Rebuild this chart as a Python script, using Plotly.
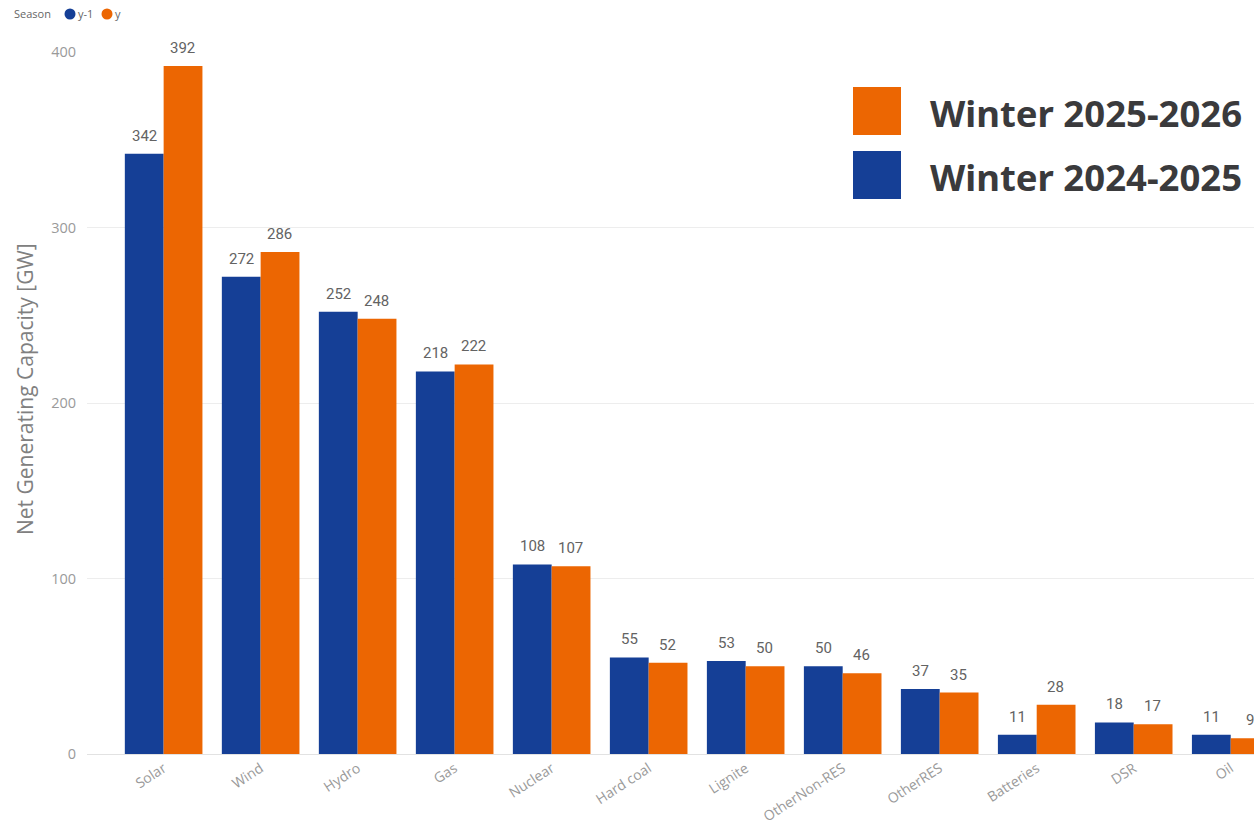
import plotly.graph_objects as go

# Net generating capacity by technology, two winter seasons
categories = ["Solar", "Wind", "Hydro", "Gas", "Nuclear", "Hard coal", "Lignite",
              "OtherNon-RES", "OtherRES", "Batteries", "DSR", "Oil"]
prev_season = [342, 272, 252, 218, 108, 55, 53, 50, 37, 11, 18, 11]
curr_season = [392, 286, 248, 222, 107, 52, 50, 46, 35, 28, 17, 9]
y_ticks = [0, 100, 200, 300, 400]

BLUE = "#153F96"
ORANGE = "#EC6602"
W, H = 1254, 828
M_L, M_R, M_T, M_B = 87, 0, 52, 74
PW, PH = W - M_L - M_R, H - M_T - M_B


def px_x(x):
    return (x - M_L) / PW


def px_y(y):
    return (H - y - M_B) / PH


fig = go.Figure()
fig.add_trace(go.Bar(x=categories, y=prev_season, name="y-1", marker_color=BLUE,
                     marker_line_width=0, showlegend=False))
fig.add_trace(go.Bar(x=categories, y=curr_season, name="y", marker_color=ORANGE,
                     marker_line_width=0, showlegend=False))

# value labels above each bar, offset to the left/right half of the group
label_font = dict(family="Roboto", size=15, color="#636363", weight=400)
for values, dx in [(prev_season, -19), (curr_season, 19)]:
    for i, v in enumerate(values):
        fig.add_annotation(x=i, y=v, text=str(v), showarrow=False,
                           xanchor="center", yanchor="middle",
                           xshift=dx, yshift=18, font=label_font)

fig.update_layout(
    width=W, height=H,
    margin=dict(l=M_L, r=M_R, t=M_T, b=M_B),
    paper_bgcolor="white", plot_bgcolor="white",
    barmode="group", bargap=0.2, bargroupgap=0,
    font=dict(family="Open Sans", color="#777777"),
    showlegend=False,
    xaxis=dict(range=[-0.79, 11.24], tickangle=-33, automargin=False,
               tickfont=dict(size=14, color="#9a9a9a"),
               showline=True, linecolor="#e2e2e2", showgrid=False, ticks=""),
    yaxis=dict(range=[0, 400], tickvals=y_ticks, automargin=False,
               tickfont=dict(size=14.5, color="#9a9a9a"),
               gridcolor="#ededed", zeroline=False, ticks="", ticklabelstandoff=10),
)

# axis title
fig.add_annotation(text="Net Generating Capacity [GW]", xref="paper", yref="paper",
                   x=px_x(25), y=px_y(389), textangle=-90,
                   xanchor="center", yanchor="middle", showarrow=False,
                   font=dict(family="Open Sans", size=21, color="#808080"))

# "Season" key at top-left
small = dict(family="Open Sans", size=11, color="#666666")
fig.add_annotation(text="Season", xref="paper", yref="paper", x=px_x(12), y=px_y(14),
                   xanchor="left", yanchor="middle", showarrow=False, font=small)
for cx, col, name in [(70, BLUE, "y-1"), (107, ORANGE, "y")]:
    fig.add_shape(type="circle", xref="paper", yref="paper",
                  x0=px_x(cx - 5.5), x1=px_x(cx + 5.5),
                  y0=px_y(14 + 5.5), y1=px_y(14 - 5.5),
                  fillcolor=col, line_width=0)
    fig.add_annotation(text=name, xref="paper", yref="paper", x=px_x(cx + 6), y=px_y(14),
                       xanchor="left", yanchor="middle", showarrow=False, font=small)

# season key on the right
for i, (label, col) in enumerate([("Winter 2025-2026", ORANGE), ("Winter 2024-2025", BLUE)]):
    top = 87 + i * 64
    fig.add_shape(type="rect", xref="paper", yref="paper",
                  x0=px_x(853), x1=px_x(901),
                  y0=px_y(top + 48), y1=px_y(top),
                  fillcolor=col, line_width=0)
    fig.add_annotation(text=f"<b>{label}</b>", xref="paper", yref="paper",
                       x=px_x(928), y=px_y(top + 26),
                       xanchor="left", yanchor="middle", showarrow=False,
                       font=dict(family="Noto Sans", size=36.5, color="#3a3a3c"))

fig.write_html("out.html")
